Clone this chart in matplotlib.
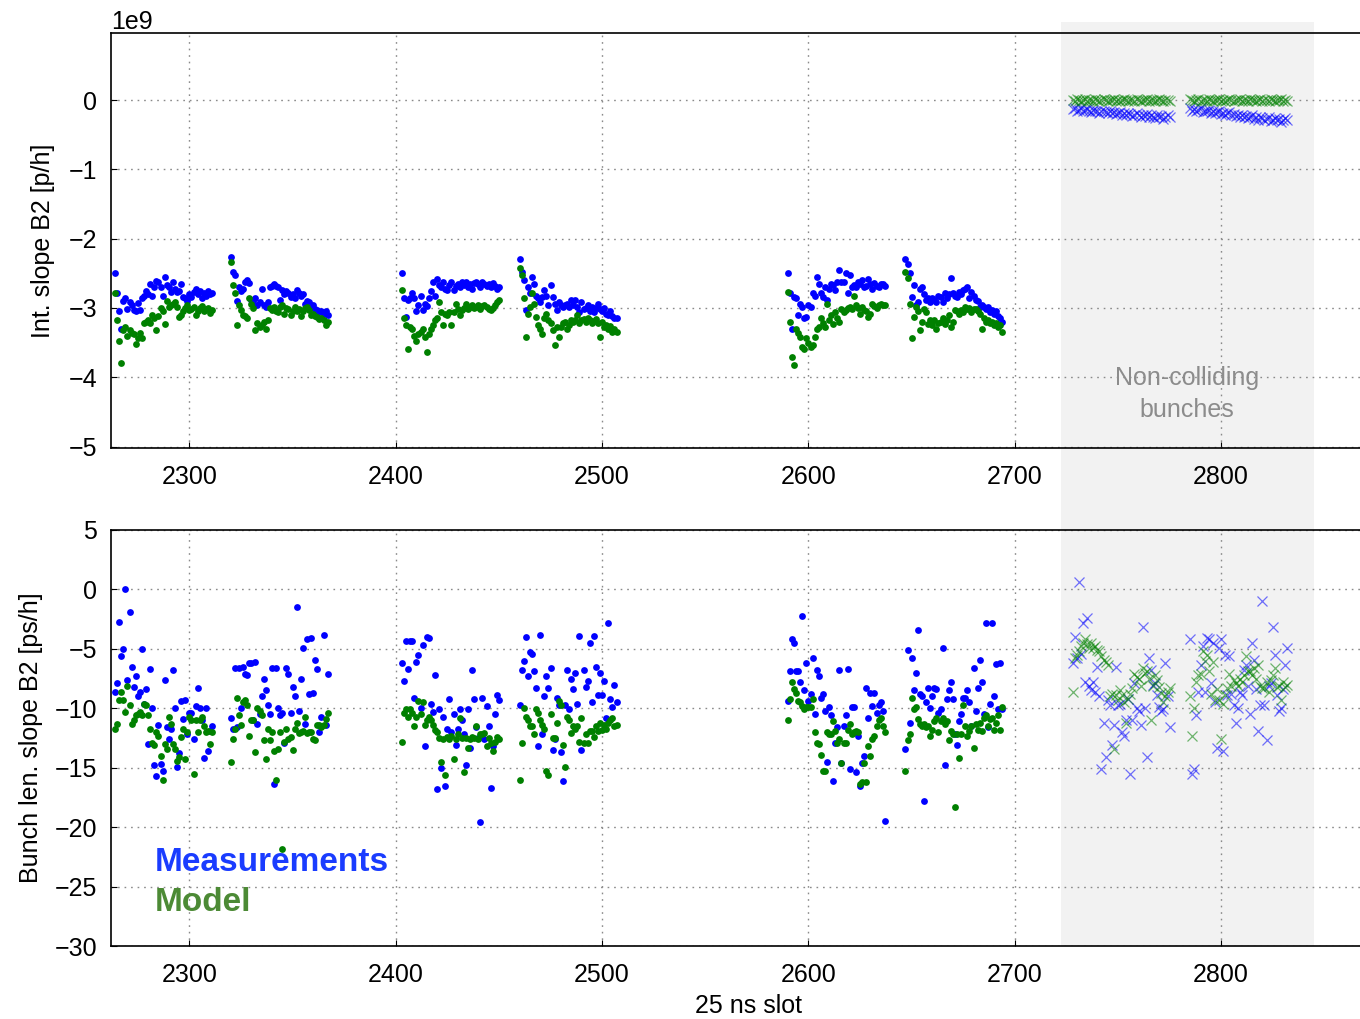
import matplotlib.pyplot as plt
import numpy as np
from matplotlib.patches import Rectangle
from matplotlib.transforms import blended_transform_factory

plt.rcParams["font.family"] = ["Liberation Sans", "DejaVu Sans"]

# first 25 ns slot of each bunch train, 48 bunches per train
colliding_starts = [2264, 2320, 2403, 2460, 2590, 2647]
noncolliding_starts = [2728, 2785]
n_bunches = 48

# intensity slope B2, units of 1e9 p/h
int_meas = [
    [-2.50, -2.79, -3.05, -3.30, -2.90, -2.85, -3.02, -2.92, -2.95, -3.03, -3.05, -2.93,
     -3.03, -2.86, -2.83, -2.75, -2.80, -2.65, -2.82, -2.70, -2.61, -2.62, -2.70, -2.82,
     -2.55, -2.67, -2.70, -2.77, -2.63, -2.72, -2.77, -2.75, -2.65, -2.84, -2.86, -2.90,
     -2.80, -2.84, -2.77, -2.72, -2.80, -2.75, -2.85, -2.78, -2.82, -2.76, -2.80, -2.78],
    [-2.26, -2.48, -2.52, -2.90, -2.70, -2.75, -2.72, -2.62, -2.60, -2.64, -2.88, -2.90,
     -2.86, -2.95, -2.92, -2.72, -2.96, -2.98, -2.92, -2.70, -2.68, -2.66, -2.68, -2.70,
     -2.88, -2.74, -2.80, -2.76, -2.78, -2.84, -2.80, -2.86, -2.74, -2.78, -2.82, -2.80,
     -2.94, -2.90, -2.92, -3.00, -2.96, -3.02, -3.03, -3.06, -3.05, -3.08, -3.04, -3.10],
    [-2.49, -2.86, -3.13, -2.88, -2.86, -2.78, -2.85, -3.05, -2.95, -2.82, -3.03, -2.94,
     -2.97, -2.86, -2.76, -2.62, -2.82, -2.58, -2.67, -2.70, -2.62, -2.72, -2.74, -2.67,
     -2.62, -2.74, -2.68, -2.65, -2.70, -2.63, -2.67, -2.62, -2.69, -2.66, -2.72, -2.64,
     -2.62, -2.66, -2.70, -2.63, -2.65, -2.68, -2.66, -2.70, -2.64, -2.68, -2.72, -2.70],
    [-2.29, -2.48, -2.60, -3.03, -2.70, -2.78, -2.55, -2.65, -2.82, -2.86, -2.91, -2.84,
     -2.74, -2.82, -2.96, -2.67, -2.84, -2.94, -3.03, -2.91, -2.96, -2.98, -2.95, -2.94,
     -2.98, -2.89, -2.96, -2.89, -2.98, -3.06, -2.91, -3.02, -3.00, -2.95, -3.04, -2.98,
     -3.06, -3.00, -2.94, -3.02, -3.05, -3.00, -3.08, -3.10, -3.05, -3.12, -3.14, -3.15],
    [-2.49, -2.79, -3.30, -2.84, -2.86, -3.10, -2.94, -2.98, -3.15, -3.13, -2.96, -2.98,
     -2.79, -2.82, -2.55, -2.65, -2.79, -2.84, -2.70, -2.89, -2.72, -2.65, -2.67, -2.74,
     -2.62, -2.45, -2.62, -2.62, -2.50, -2.79, -2.52, -2.69, -2.67, -2.70, -2.62, -2.66,
     -2.60, -2.70, -2.68, -2.58, -2.66, -2.72, -2.64, -2.68, -2.70, -2.65, -2.66, -2.68],
    [-2.29, -2.36, -2.50, -2.84, -2.67, -2.96, -2.91, -2.72, -2.69, -2.80, -2.89, -2.86,
     -2.91, -2.86, -2.88, -2.91, -2.82, -2.84, -2.91, -2.79, -2.86, -2.80, -2.57, -2.79,
     -2.82, -2.84, -2.77, -2.80, -2.74, -2.72, -2.69, -2.86, -2.77, -2.82, -2.89, -2.90,
     -2.98, -2.96, -2.98, -3.01, -2.98, -3.06, -3.03, -3.08, -3.05, -3.12, -3.15, -3.20],
]
int_model = [
    [-2.78, -3.18, -3.47, -3.79, -3.32, -3.28, -3.40, -3.32, -3.36, -3.38, -3.52, -3.43,
     -3.36, -3.44, -3.22, -3.20, -3.18, -3.22, -3.10, -3.15, -3.32, -3.12, -3.00, -3.05,
     -3.23, -2.90, -2.98, -2.96, -2.94, -2.92, -2.98, -3.13, -3.10, -3.05, -3.00, -2.95,
     -3.03, -3.02, -2.98, -3.10, -3.05, -3.00, -2.97, -3.04, -3.02, -3.00, -3.07, -3.03],
    [-2.33, -2.67, -2.79, -3.25, -2.95, -3.03, -3.10, -3.12, -3.15, -2.86, -2.94, -3.00,
     -3.32, -3.22, -3.28, -3.24, -3.20, -3.30, -3.18, -3.00, -3.03, -2.98, -3.04, -3.06,
     -2.98, -2.96, -3.08, -3.00, -3.02, -3.10, -3.05, -2.98, -3.04, -3.02, -3.12, -3.05,
     -3.00, -2.98, -3.03, -3.10, -3.08, -3.12, -3.13, -3.16, -3.14, -3.18, -3.25, -3.20],
    [-2.74, -3.15, -3.25, -3.59, -3.28, -3.30, -3.40, -3.47, -3.38, -3.35, -3.30, -3.42,
     -3.63, -3.37, -3.30, -3.25, -3.18, -3.14, -2.91, -3.06, -3.25, -3.08, -3.10, -3.06,
     -3.25, -3.06, -2.94, -3.02, -3.10, -3.03, -3.00, -2.94, -3.01, -2.98, -2.96, -3.00,
     -2.98, -2.96, -3.01, -2.97, -2.96, -2.99, -3.01, -3.03, -3.00, -2.95, -2.92, -2.89],
    [-2.43, -2.53, -2.86, -3.42, -3.08, -2.98, -2.79, -2.94, -3.13, -3.25, -3.30, -3.37,
     -3.15, -3.08, -3.18, -3.22, -3.32, -3.54, -3.27, -3.42, -3.27, -3.22, -3.20, -3.30,
     -3.25, -3.18, -3.20, -3.18, -3.10, -3.22, -3.18, -3.16, -3.20, -3.15, -3.18, -3.22,
     -3.19, -3.16, -3.21, -3.42, -3.20, -3.28, -3.25, -3.30, -3.26, -3.35, -3.30, -3.34],
    [-2.77, -3.20, -3.71, -3.83, -3.30, -3.36, -3.42, -3.56, -3.59, -3.44, -3.50, -3.56,
     -3.54, -3.42, -3.30, -3.27, -3.15, -3.22, -3.27, -2.94, -3.18, -3.10, -3.23, -3.06,
     -3.15, -3.20, -3.01, -3.06, -3.03, -3.00, -2.98, -3.02, -2.82, -2.96, -3.00, -3.08,
     -2.98, -3.03, -3.05, -3.13, -3.08, -2.94, -2.97, -3.00, -2.96, -2.94, -2.96, -2.95],
    [-2.48, -2.57, -2.94, -3.44, -3.13, -2.98, -3.05, -3.32, -3.20, -3.01, -3.06, -3.23,
     -3.18, -3.25, -3.18, -3.30, -3.22, -3.20, -3.15, -3.23, -3.18, -3.10, -3.27, -3.20,
     -3.03, -3.05, -3.08, -3.03, -3.06, -2.98, -3.01, -3.00, -3.06, -3.02, -3.01, -3.05,
     -3.08, -3.30, -3.15, -3.20, -3.18, -3.22, -3.20, -3.25, -3.22, -3.28, -3.25, -3.35],
]
int_meas_nc = [
    [-0.13, -0.12, -0.15, -0.14, -0.12, -0.16, -0.14, -0.13, -0.15, -0.17, -0.14, -0.16,
     -0.15, -0.18, -0.16, -0.15, -0.17, -0.19, -0.16, -0.18, -0.17, -0.20, -0.18, -0.17,
     -0.21, -0.19, -0.22, -0.18, -0.20, -0.23, -0.21, -0.19, -0.22, -0.24, -0.21, -0.23,
     -0.20, -0.25, -0.22, -0.24, -0.26, -0.22, -0.25, -0.23, -0.27, -0.24, -0.22, -0.25],
    [-0.12, -0.15, -0.13, -0.16, -0.14, -0.12, -0.17, -0.15, -0.16, -0.14, -0.18, -0.16,
     -0.19, -0.17, -0.15, -0.20, -0.18, -0.21, -0.19, -0.17, -0.22, -0.20, -0.23, -0.21,
     -0.24, -0.22, -0.25, -0.23, -0.26, -0.24, -0.22, -0.27, -0.25, -0.28, -0.24, -0.26,
     -0.29, -0.27, -0.25, -0.30, -0.28, -0.26, -0.29, -0.27, -0.31, -0.28, -0.26, -0.29],
]
int_model_nc = [
    [0.00, -0.01, 0.01, 0.00, -0.01, 0.00, 0.01, -0.01, 0.00, 0.00, -0.01, 0.01,
     0.00, -0.01, 0.00, 0.01, 0.00, -0.01, 0.00, 0.00, 0.01, -0.01, 0.00, -0.01,
     0.00, 0.01, 0.00, -0.01, 0.00, 0.00, -0.01, 0.01, 0.00, -0.01, 0.00, 0.00,
     0.01, -0.01, 0.00, 0.00, -0.01, 0.00, 0.01, 0.00, -0.01, 0.00, 0.00, -0.01],
    [0.01, 0.00, -0.01, 0.00, 0.01, -0.01, 0.00, 0.00, -0.01, 0.01, 0.00, -0.01,
     0.00, 0.00, 0.01, -0.01, 0.00, -0.01, 0.00, 0.01, 0.00, -0.01, 0.00, 0.00,
     0.01, -0.01, 0.00, 0.00, -0.01, 0.01, 0.00, 0.00, -0.01, 0.00, 0.01, -0.01,
     0.00, 0.00, -0.01, 0.01, 0.00, -0.01, 0.00, 0.00, 0.01, -0.01, 0.00, -0.01],
]

# bunch length slope B2 [ps/h]
blen_meas = [
    [-8.6, -7.9, -2.7, -5.6, -5.0, 0.0, -7.6, -1.9, -6.5, -8.2, -7.3, -9.0,
     -8.6, -5.0, -9.6, -8.4, -13.0, -6.7, -10.0, -14.8, -15.7, -11.4, -14.7, -15.3,
     -7.6, -11.6, -12.6, -11.7, -6.8, -10.0, -14.9, -13.8, -9.4, -10.9, -9.3, -12.2,
     -10.4, -10.4, -12.6, -9.8, -8.3, -10.0, -11.0, -14.2, -10.0, -13.6, -11.9, -11.5],
    [-10.8, -11.7, -6.6, -11.6, -6.6, -10.0, -6.5, -7.1, -7.2, -6.2, -6.2, -11.0,
     -6.1, -11.3, -10.5, -9.0, -7.5, -8.5, -9.7, -10.5, -6.6, -16.4, -6.6, -10.0,
     -10.6, -10.4, -12.9, -6.6, -7.1, -10.4, -8.2, -9.0, -1.5, -10.2, -7.5, -4.9,
     -11.3, -4.2, -8.8, -4.1, -8.7, -5.9, -6.7, -12.0, -10.7, -3.8, -11.4, -7.1],
    [-6.2, -7.7, -4.3, -6.7, -4.3, -4.3, -9.1, -6.1, -5.5, -10.0, -4.7, -13.2,
     -4.0, -4.1, -9.6, -10.3, -7.2, -16.8, -10.1, -15.0, -10.7, -16.5, -11.7, -9.2,
     -12.0, -10.5, -13.1, -11.7, -10.1, -11.0, -12.2, -14.8, -10.1, -13.3, -6.8, -9.2,
     -11.6, -12.5, -19.6, -9.1, -12.6, -9.8, -11.5, -16.7, -13.2, -10.5, -8.9, -9.3],
    [-9.7, -6.8, -6.0, -4.0, -7.3, -5.3, -5.4, -6.9, -8.3, -13.2, -3.8, -12.2,
     -9.0, -7.3, -8.3, -6.6, -13.5, -12.6, -9.1, -9.7, -13.7, -16.1, -9.7, -6.8,
     -10.1, -7.5, -8.4, -7.0, -9.6, -3.9, -13.5, -6.8, -8.2, -7.7, -4.5, -9.5,
     -3.9, -6.5, -8.9, -7.0, -8.9, -7.7, -10.8, -2.8, -9.2, -9.9, -8.0, -9.5],
    [-9.4, -6.9, -4.2, -4.5, -6.9, -6.9, -7.8, -2.2, -8.5, -6.2, -9.4, -8.8,
     -5.8, -10.5, -6.8, -7.3, -9.1, -8.8, -10.2, -14.5, -9.9, -10.6, -16.1, -12.9,
     -11.6, -6.8, -14.6, -11.5, -10.6, -6.7, -15.1, -9.9, -9.9, -15.4, -12.3, -16.5,
     -14.6, -14.0, -8.3, -10.8, -8.7, -9.8, -8.7, -10.4, -9.7, -9.5, -10.2, -19.5],
    [-13.4, -5.1, -11.2, -5.8, -8.5, -7.0, -3.4, -8.8, -9.0, -17.8, -9.5, -8.3,
     -10.0, -9.0, -8.3, -8.4, -10.4, -10.1, -4.9, -14.8, -9.2, -8.5, -7.8, -9.2,
     -12.2, -13.1, -11.1, -10.5, -9.1, -9.1, -8.5, -9.5, -11.5, -6.6, -10.2, -8.3,
     -5.9, -7.8, -10.5, -2.8, -11.6, -9.6, -2.8, -9.0, -6.3, -10.1, -6.2, -10.1],
]
blen_model = [
    [-11.7, -11.3, -9.3, -8.6, -9.3, -10.3, -8.1, -9.7, -11.3, -11.0, -10.6, -10.5,
     -10.3, -10.6, -9.6, -9.7, -10.6, -11.7, -12.9, -13.1, -12.0, -12.3, -14.0, -16.0,
     -13.0, -13.4, -10.7, -11.3, -13.0, -13.4, -14.4, -14.1, -12.4, -11.7, -14.3, -12.0,
     -10.7, -11.0, -15.5, -11.0, -12.0, -11.0, -10.7, -11.5, -12.0, -11.9, -13.0, -12.0],
    [-14.5, -12.6, -11.7, -9.1, -10.6, -11.4, -9.5, -9.3, -9.7, -12.3, -11.0, -11.0,
     -13.7, -10.0, -10.2, -10.6, -12.7, -14.3, -11.7, -12.7, -12.0, -13.6, -16.0, -13.4,
     -12.0, -21.8, -12.8, -11.7, -12.6, -12.4, -13.5, -11.7, -11.2, -12.1, -12.0, -11.9,
     -10.7, -12.1, -12.0, -12.0, -12.6, -12.7, -11.4, -11.4, -11.6, -11.4, -10.9, -10.4],
    [-12.8, -10.4, -10.1, -10.7, -10.1, -10.4, -11.5, -10.7, -9.4, -10.5, -9.5, -11.4,
     -11.0, -10.7, -11.0, -11.4, -11.8, -12.0, -12.5, -14.5, -12.6, -15.6, -12.4, -12.6,
     -12.3, -14.3, -12.6, -12.2, -10.8, -12.5, -15.4, -12.5, -13.3, -12.6, -12.4, -12.5,
     -11.5, -12.6, -12.2, -12.2, -12.1, -13.2, -12.5, -12.9, -13.6, -12.8, -12.4, -12.6],
    [-16.0, -12.9, -10.0, -10.7, -11.0, -11.5, -11.5, -12.2, -10.1, -10.4, -11.0, -11.4,
     -11.7, -15.3, -15.6, -10.5, -12.5, -12.5, -11.2, -9.4, -9.7, -13.1, -14.9, -10.7,
     -11.0, -12.1, -11.5, -11.7, -11.5, -12.8, -10.8, -12.9, -12.2, -12.9, -11.9, -11.9,
     -12.4, -11.5, -11.9, -11.2, -11.8, -11.4, -11.7, -11.2, -11.0, -10.8, -11.5, -11.4],
    [-11.0, -9.2, -7.8, -8.4, -8.7, -9.4, -9.5, -9.8, -10.1, -9.9, -9.9, -9.9,
     -9.2, -12.0, -12.9, -13.0, -13.9, -15.3, -15.3, -12.0, -12.2, -12.2, -11.1, -11.9,
     -12.9, -12.6, -14.6, -12.9, -12.9, -11.8, -11.3, -12.2, -12.0, -11.9, -12.0, -16.4,
     -16.2, -14.6, -16.2, -13.2, -14.0, -12.6, -12.3, -11.5, -11.0, -10.8, -11.5, -12.0],
    [-15.3, -12.7, -12.2, -9.1, -10.1, -9.9, -10.9, -11.3, -11.5, -11.3, -11.6, -11.5,
     -12.3, -11.8, -11.1, -10.8, -12.0, -11.1, -10.8, -11.3, -11.1, -12.7, -11.9, -12.2,
     -18.3, -12.2, -14.2, -12.2, -9.7, -11.5, -12.3, -11.9, -11.5, -13.3, -11.3, -11.8,
     -11.2, -11.9, -10.8, -10.6, -11.5, -10.9, -10.8, -11.8, -11.2, -10.6, -11.8, -9.9],
]
blen_meas_nc = [
    [-6.2, -4.0, -5.8, 0.6, -5.4, -2.8, -7.8, -2.4, -8.1, -8.5, -7.8, -8.6,
     -6.5, -9.0, -15.1, -11.2, -14.1, -9.3, -9.7, -13.1, -11.4, -6.5, -9.7, -9.6,
     -12.0, -12.3, -11.0, -9.2, -15.5, -11.0, -7.9, -10.0, -10.2, -11.4, -3.2, -10.0,
     -14.1, -5.8, -6.8, -8.0, -7.9, -8.9, -9.9, -10.2, -10.1, -6.2, -9.0, -11.6],
    [-4.2, -15.5, -15.1, -10.6, -8.6, -6.4, -4.8, -8.6, -4.1, -4.2, -7.9, -4.5,
     -9.5, -13.3, -4.9, -4.2, -13.6, -5.5, -8.9, -5.6, -8.8, -9.7, -11.2, -10.0,
     -8.6, -8.9, -6.8, -6.4, -8.1, -10.5, -4.5, -5.9, -8.4, -11.9, -9.7, -1.0,
     -9.7, -12.7, -8.1, -7.9, -3.2, -5.5, -8.9, -10.2, -10.0, -8.4, -6.4, -4.9],
]
blen_model_nc = [
    [-8.6, -5.8, -5.5, -5.2, -4.8, -4.5, -4.2, -4.6, -4.9, -4.5, -4.9, -4.8,
     -5.1, -5.2, -5.6, -5.9, -6.1, -6.4, -9.0, -8.8, -13.4, -8.9, -9.3, -8.5,
     -8.9, -9.5, -11.2, -9.2, -8.8, -8.3, -7.1, -7.4, -7.5, -8.1, -6.6, -7.0,
     -6.9, -7.5, -11.0, -8.1, -7.2, -7.6, -8.2, -8.7, -9.5, -9.0, -8.6, -8.3],
    [-9.0, -12.3, -10.0, -7.8, -7.2, -7.1, -5.2, -6.0, -5.5, -6.9, -8.8, -6.1,
     -9.3, -8.4, -9.3, -12.6, -9.6, -8.9, -8.3, -7.1, -8.1, -7.6, -7.9, -8.1,
     -7.5, -7.8, -7.2, -5.6, -6.9, -6.9, -7.2, -6.6, -7.5, -6.4, -8.1, -8.3,
     -8.3, -7.8, -8.6, -7.6, -7.2, -6.6, -8.2, -8.1, -9.3, -7.8, -8.2, -8.0],
]

x_ticks = [2300, 2400, 2500, 2600, 2700, 2800]
noncolliding_span = (2722.5, 2845)

MEAS_C = "#0000ff"
MODEL_C = "#008000"
FS = 18


def slots(start):
    return np.arange(start, start + n_bunches)


def draw_trains(ax, meas, model, meas_nc, model_nc, scale=1.0):
    for start, m, s in zip(colliding_starts, meas, model):
        ax.plot(slots(start), np.array(m) * scale, "o", color=MEAS_C, ms=4.9, mew=0)
        ax.plot(slots(start), np.array(s) * scale, "o", color=MODEL_C, ms=4.9, mew=0)
    for start, m, s in zip(noncolliding_starts, meas_nc, model_nc):
        ax.plot(slots(start), np.array(m) * scale, "x", color=MEAS_C, ms=6.5,
                mew=0.9, alpha=0.55)
        ax.plot(slots(start), np.array(s) * scale, "x", color=MODEL_C, ms=6.5,
                mew=0.9, alpha=0.55)


def style_axes(ax):
    ax.set_facecolor("none")
    ax.set_xlim(2262, 2880)
    ax.set_xticks(x_ticks)
    ax.grid(True, color="#8a8a8a", linestyle=(0, (1.2, 3.5)), linewidth=1.0)
    ax.tick_params(direction="in", length=4, labelsize=FS)
    ax.tick_params(axis="x", pad=12)
    ax.tick_params(axis="y", pad=10)
    ax.spines["right"].set_visible(False)
    for sp in ax.spines.values():
        sp.set_linewidth(1.2)


fig = plt.figure(figsize=(13.6, 10.19), dpi=100)
ax1 = fig.add_axes([0.0816, 0.5604, 0.9377, 0.4073])
ax2 = fig.add_axes([0.0816, 0.0716, 0.9377, 0.4083])

# shaded band for the non-colliding bunches, through both panels
band_tr = blended_transform_factory(ax1.transData, fig.transFigure)
fig.patches.append(Rectangle((noncolliding_span[0], 0.0716),
                             noncolliding_span[1] - noncolliding_span[0], 0.9068,
                             transform=band_tr, facecolor="#f2f2f2",
                             edgecolor="none", zorder=-5))

draw_trains(ax1, int_meas, int_model, int_meas_nc, int_model_nc, scale=1e9)
style_axes(ax1)
ax1.set_ylim(-5.02e9, 0.97e9)
ax1.set_yticks([-5e9, -4e9, -3e9, -2e9, -1e9, 0])
ax1.yaxis.get_offset_text().set_fontsize(FS)
ax1.set_ylabel("Int. slope B2 [p/h]", fontsize=FS, labelpad=10)
ax1.text(2783.5, -4.24e9, "Non-colliding\nbunches", ha="center", va="center",
         fontsize=FS, color="#8c8c8c", linespacing=1.45)

draw_trains(ax2, blen_meas, blen_model, blen_meas_nc, blen_model_nc)
style_axes(ax2)
ax2.set_ylim(-30, 5)
ax2.set_yticks([5, 0, -5, -10, -15, -20, -25, -30])
ax2.set_ylabel("Bunch len. slope B2 [ps/h]", fontsize=FS, labelpad=8)
ax2.set_xlabel("25 ns slot", fontsize=FS, labelpad=5)

ax2.text(0.034, 0.2, "Measurements", transform=ax2.transAxes, fontsize=24,
         fontweight="bold", color="#1a3cff", va="center", ha="left")
ax2.text(0.034, 0.105, "Model", transform=ax2.transAxes, fontsize=24,
         fontweight="bold", color="#4c8a35", va="center", ha="left")

fig.savefig("out.png", dpi=100)
